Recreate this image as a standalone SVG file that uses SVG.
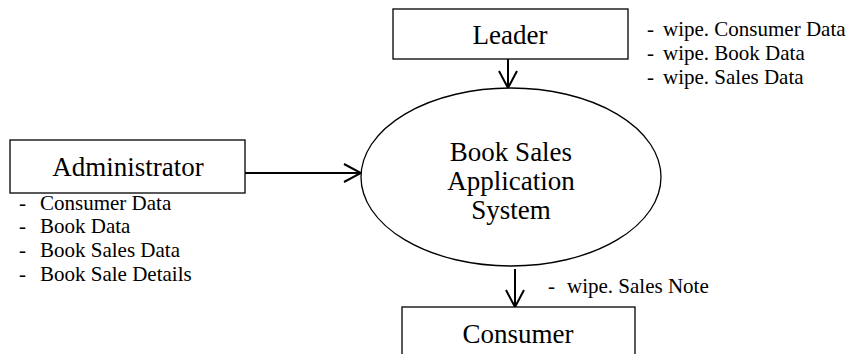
<svg xmlns="http://www.w3.org/2000/svg" width="849" height="354" viewBox="0 0 849 354">
<style>
.box{fill:#fff;stroke:#000;stroke-width:1.3}
.lbl{font-family:"Liberation Serif","Times New Roman",serif;font-size:27px;fill:#000;text-anchor:middle}
.lst{font-family:"Liberation Serif","Times New Roman",serif;font-size:21px;fill:#000}
.con{stroke:#000;stroke-width:2;fill:none}
</style>
<defs>
<marker id="arr" viewBox="0 0 20 20" refX="18" refY="10" markerWidth="20" markerHeight="20" markerUnits="userSpaceOnUse" orient="auto">
<path d="M1,1 L18,10 L1,19" fill="none" stroke="#000" stroke-width="2"/>
</marker>
</defs>
<g id="connectors">
<line class="con" x1="508" y1="59" x2="508" y2="88" marker-end="url(#arr)"/>
<line class="con" x1="245" y1="173" x2="361" y2="173" marker-end="url(#arr)"/>
<line class="con" x1="515" y1="269" x2="515" y2="307" marker-end="url(#arr)"/>
</g>
<g id="leader">
<rect class="box" x="393" y="9" width="235" height="50"/>
<text class="lbl" x="510" y="44">Leader</text>
</g>
<g id="leader-notes">
<text class="lst" x="647" y="36">-</text><text class="lst" x="663" y="36">wipe. Consumer Data</text>
<text class="lst" x="647" y="60">-</text><text class="lst" x="663" y="60">wipe. Book Data</text>
<text class="lst" x="647" y="84">-</text><text class="lst" x="663" y="84">wipe. Sales Data</text>
</g>
<g id="system">
<ellipse class="box" cx="511" cy="177" rx="150" ry="89"/>
<text class="lbl" x="511" y="161">Book Sales</text>
<text class="lbl" x="511" y="190">Application</text>
<text class="lbl" x="511" y="219">System</text>
</g>
<g id="administrator">
<rect class="box" x="10" y="140" width="235" height="53"/>
<text class="lbl" x="128" y="176">Administrator</text>
</g>
<g id="admin-notes">
<text class="lst" x="19" y="210">-</text><text class="lst" x="40" y="210">Consumer Data</text>
<text class="lst" x="19" y="233">-</text><text class="lst" x="40" y="233">Book Data</text>
<text class="lst" x="19" y="257">-</text><text class="lst" x="40" y="257">Book Sales Data</text>
<text class="lst" x="19" y="281">-</text><text class="lst" x="40" y="281">Book Sale Details</text>
</g>
<g id="consumer-notes">
<text class="lst" x="548" y="293">-</text><text class="lst" x="567" y="293">wipe. Sales Note</text>
</g>
<g id="consumer">
<rect class="box" x="402" y="307" width="233" height="60"/>
<text class="lbl" x="518" y="343">Consumer</text>
</g>
</svg>
